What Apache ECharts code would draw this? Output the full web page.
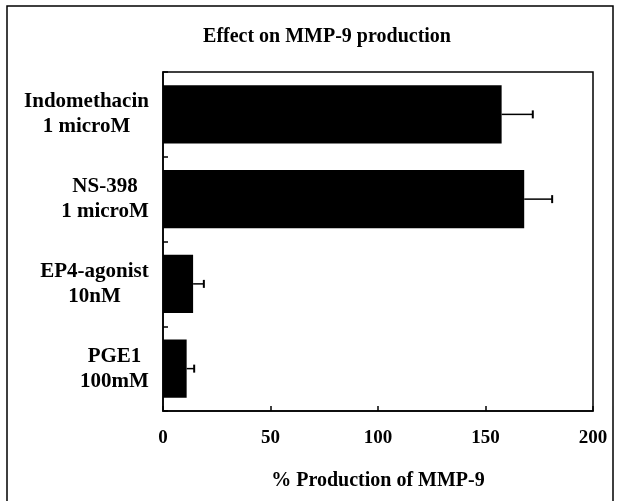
<!DOCTYPE html>
<html>
<head>
<meta charset="utf-8">
<script src="https://cdn.jsdelivr.net/npm/echarts@6/dist/echarts.min.js"></script>
<style>
  html, body { margin: 0; padding: 0; background: #fff; }
  #main { width: 619px; height: 501px; }
</style>
</head>
<body>
<div id="main"></div>
<script>
// 各处理组（从上到下）
const categories = ["Indomethacin\n1 microM", "NS-398\n1 microM", "EP4-agonist\n10nM", "PGE1\n100mM"];
// % Production of MMP-9
const values = [157.5, 168, 14, 11];
// 误差上限（只画正方向）
const errors = [14.5, 13, 5, 3.5];
const xTicks = [0, 50, 100, 150, 200];

const serif = "'Liberation Serif', 'Times New Roman', serif";
const labelSize = 21;

// 每个标签按最长一行居中
const ctx = document.createElement("canvas").getContext("2d");
ctx.font = "bold " + labelSize + "px " + serif;
function blockWidth(val) {
  const lines = val.split("\n");
  return Math.round(Math.max(...lines.map((l) => ctx.measureText(l).width)));
}
function labelFormatter(val) {
  const w = blockWidth(val);
  return val.split("\n").map((l) => "{c" + w + "|" + l + "}").join("\n");
}
const rich = {};
categories.forEach((c) => {
  const w = blockWidth(c);
  rich["c" + w] = { width: w, align: "center", fontFamily: serif, fontWeight: "bold", fontSize: labelSize, color: "#000", lineHeight: 25 };
});

let myChart = echarts.init(document.getElementById("main"));
let option = {
  animation: false,
  backgroundColor: "#fff",
  title: {
    text: "Effect on MMP-9 production",
    left: 322,
    top: 22,
    textAlign: "center",
    textStyle: { fontFamily: serif, fontWeight: "bold", fontSize: 20, color: "#000" },
  },
  graphic: [
    {
      type: "rect",
      shape: { x: 7, y: 6, width: 606, height: 510 },
      style: { fill: "none", stroke: "#000", lineWidth: 1.5 },
      silent: true,
    },
  ],
  grid: {
    left: 163,
    right: 26,
    top: 72,
    bottom: 90,
    show: true,
    borderColor: "#000",
    borderWidth: 1.5,
  },
  xAxis: {
    type: "value",
    min: 0,
    max: 200,
    interval: 50,
    name: "% Production of MMP-9",
    nameLocation: "middle",
    nameGap: 60,
    nameTextStyle: { fontFamily: serif, fontWeight: "bold", fontSize: 20, color: "#000" },
    axisLine: { show: true, lineStyle: { color: "#000", width: 1.5 } },
    axisTick: { show: true, inside: true, length: 5, lineStyle: { color: "#000", width: 1.5 } },
    splitLine: { show: false },
    axisLabel: {
      margin: 18,
      fontFamily: serif,
      fontWeight: "bold",
      fontSize: 19,
      color: "#000",
      formatter: (v) => (xTicks.includes(v) ? String(v) : ""),
    },
  },
  yAxis: {
    type: "category",
    inverse: true,
    data: categories,
    axisLine: { show: true, lineStyle: { color: "#000", width: 1.5 } },
    axisTick: { show: true, inside: true, length: 5, lineStyle: { color: "#000", width: 1.5 } },
    axisLabel: {
      margin: 14,
      formatter: labelFormatter,
      rich: rich,
    },
  },
  series: [
    {
      name: "MMP-9",
      type: "bar",
      data: values,
      barWidth: "69%",
      itemStyle: { color: "#000" },
    },
    {
      name: "error",
      type: "custom",
      data: values.map((v, i) => [i, v, v + errors[i]]),
      encode: { x: [1, 2], y: 0 },
      renderItem: function (params, api) {
        const cat = api.value(0);
        const start = api.coord([api.value(1), cat]);
        const end = api.coord([api.value(2), cat]);
        const cap = 4;
        return {
          type: "group",
          children: [
            { type: "line", shape: { x1: start[0], y1: start[1], x2: end[0], y2: end[1] }, style: { stroke: "#000", lineWidth: 1.5 } },
            { type: "line", shape: { x1: end[0], y1: end[1] - cap, x2: end[0], y2: end[1] + cap }, style: { stroke: "#000", lineWidth: 2 } },
          ],
        };
      },
      z: 3,
    },
  ],
};
myChart.setOption(option);
</script>
</body>
</html>
